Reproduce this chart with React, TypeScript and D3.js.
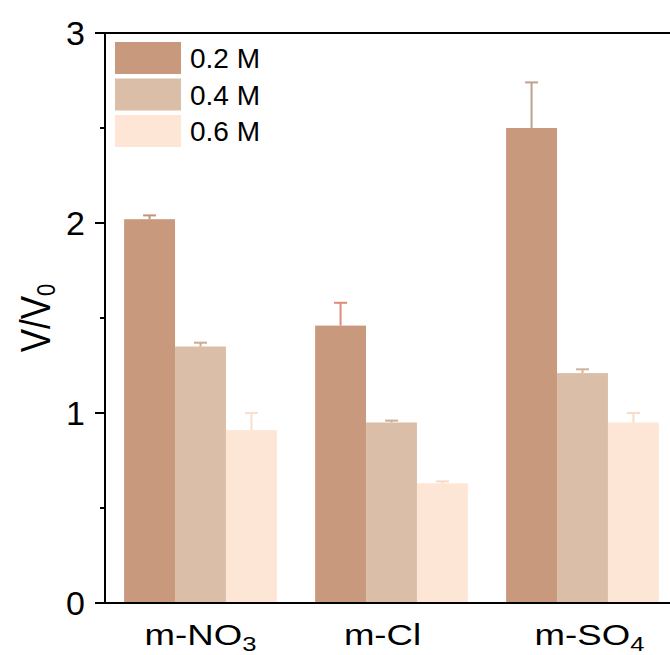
import React from 'react';
import * as d3 from 'd3';

const categoryBase = ['m-NO', 'm-Cl', 'm-SO'];
const categorySub = ['3', '', '4'];
const seriesNames = ['0.2 M', '0.4 M', '0.6 M'];
const values02 = [2.02, 1.46, 2.5];
const values04 = [1.35, 0.95, 1.21];
const values06 = [0.91, 0.63, 0.95];
const err02 = [0.02, 0.12, 0.24];
const err04 = [0.02, 0.01, 0.02];
const err06 = [0.09, 0.01, 0.05];
const yTicks = [0, 1, 2, 3];
const yMinorTicks = [0.5, 1.5, 2.5];

const barColors = ['#C8997D', '#DBBEA8', '#FDE6D6'];
const errColors = [
  ['#C4937A', '#DE8A7A', '#C2A08E'],
  ['#CFAA92', '#CFAE96', '#D2B29A'],
  ['#F9DFCC', '#F6D9C6', '#F7DCC9'],
];
const labelShift = [0, -9, 7];

const W = 670;
const H = 655;
const left = 105;
const right = 678;
const top = 33;
const bottom = 603;

export default function App() {
  const series = [values02, values04, values06];
  const errs = [err02, err04, err06];
  const y = d3.scaleLinear().domain([0, 3]).range([bottom, top]);
  const x0 = d3
    .scaleBand<string>()
    .domain(categoryBase)
    .range([left, right])
    .paddingInner(0.2)
    .paddingOuter(0.1);
  const x1 = d3.scaleBand<string>().domain(seriesNames).range([0, x0.bandwidth()]).padding(0);
  const font = 'Arial, "Liberation Sans", Helvetica, sans-serif';

  return (
    <svg
      width={W}
      height={H}
      style={{ position: 'absolute', left: 0, top: 0, background: '#fff' }}
      fontFamily={font}
    >
      {/* bars */}
      {categoryBase.map((c, ci) =>
        seriesNames.map((s, si) => {
          const v = series[si][ci];
          const bx = (x0(c) as number) + (x1(s) as number);
          return (
            <rect
              key={c + s}
              x={bx}
              y={y(v)}
              width={x1.bandwidth()}
              height={y(0) - y(v)}
              fill={barColors[si]}
            />
          );
        })
      )}
      {/* error bars */}
      {categoryBase.map((c, ci) =>
        seriesNames.map((s, si) => {
          const v = series[si][ci];
          const e = errs[si][ci];
          const cx = (x0(c) as number) + (x1(s) as number) + x1.bandwidth() / 2;
          const col = errColors[si][ci];
          return (
            <g key={'e' + c + s} stroke={col} strokeWidth={2}>
              <line x1={cx} x2={cx} y1={y(v)} y2={y(v + e)} />
              <line x1={cx - 6.5} x2={cx + 6.5} y1={y(v + e)} y2={y(v + e)} />
            </g>
          );
        })
      )}
      {/* frame */}
      <line x1={left} x2={left} y1={top - 1} y2={bottom + 1} stroke="#000" strokeWidth={2} />
      <line x1={left - 1} x2={right} y1={bottom} y2={bottom} stroke="#000" strokeWidth={2} />
      <line x1={left - 1} x2={right} y1={top} y2={top} stroke="#000" strokeWidth={2} />
      {/* y ticks */}
      {yTicks.map((t) => (
        <g key={'t' + t}>
          <line x1={left - 10} x2={left} y1={y(t)} y2={y(t)} stroke="#000" strokeWidth={2} />
          <text x={left - 20} y={y(t)} dy="0.36em" textAnchor="end" fontSize={34} fill="#000">
            {t}
          </text>
        </g>
      ))}
      {yMinorTicks.map((t) => (
        <line key={'m' + t} x1={left - 5} x2={left} y1={y(t)} y2={y(t)} stroke="#000" strokeWidth={2} />
      ))}
      {/* x labels */}
      {categoryBase.map((c, ci) => {
        const cx = (x0(c) as number) + x0.bandwidth() / 2 + labelShift[ci];
        return (
          <text
            key={'xl' + c}
            transform={`translate(${cx},645) scale(1.22,1)`}
            textAnchor="middle"
            fontSize={30}
            fill="#000"
          >
            {c}
            {categorySub[ci] && (
              <tspan fontSize={21} dy={6}>
                {categorySub[ci]}
              </tspan>
            )}
          </text>
        );
      })}
      {/* y title */}
      <text
        transform="translate(50,318) rotate(-90) scale(1,1.2)"
        textAnchor="middle"
        fontSize={35}
        fill="#000"
      >
        V/V
        <tspan fontSize={22} dy={4}>
          0
        </tspan>
      </text>
      {/* legend */}
      {seriesNames.map((s, si) => {
        const ly = 42 + si * 36.5;
        return (
          <g key={'lg' + s}>
            <rect x={115} y={ly} width={66} height={32} fill={barColors[si]} />
            <text x={190} y={ly + 26} fontSize={28} fill="#000">
              {s}
            </text>
          </g>
        );
      })}
    </svg>
  );
}
